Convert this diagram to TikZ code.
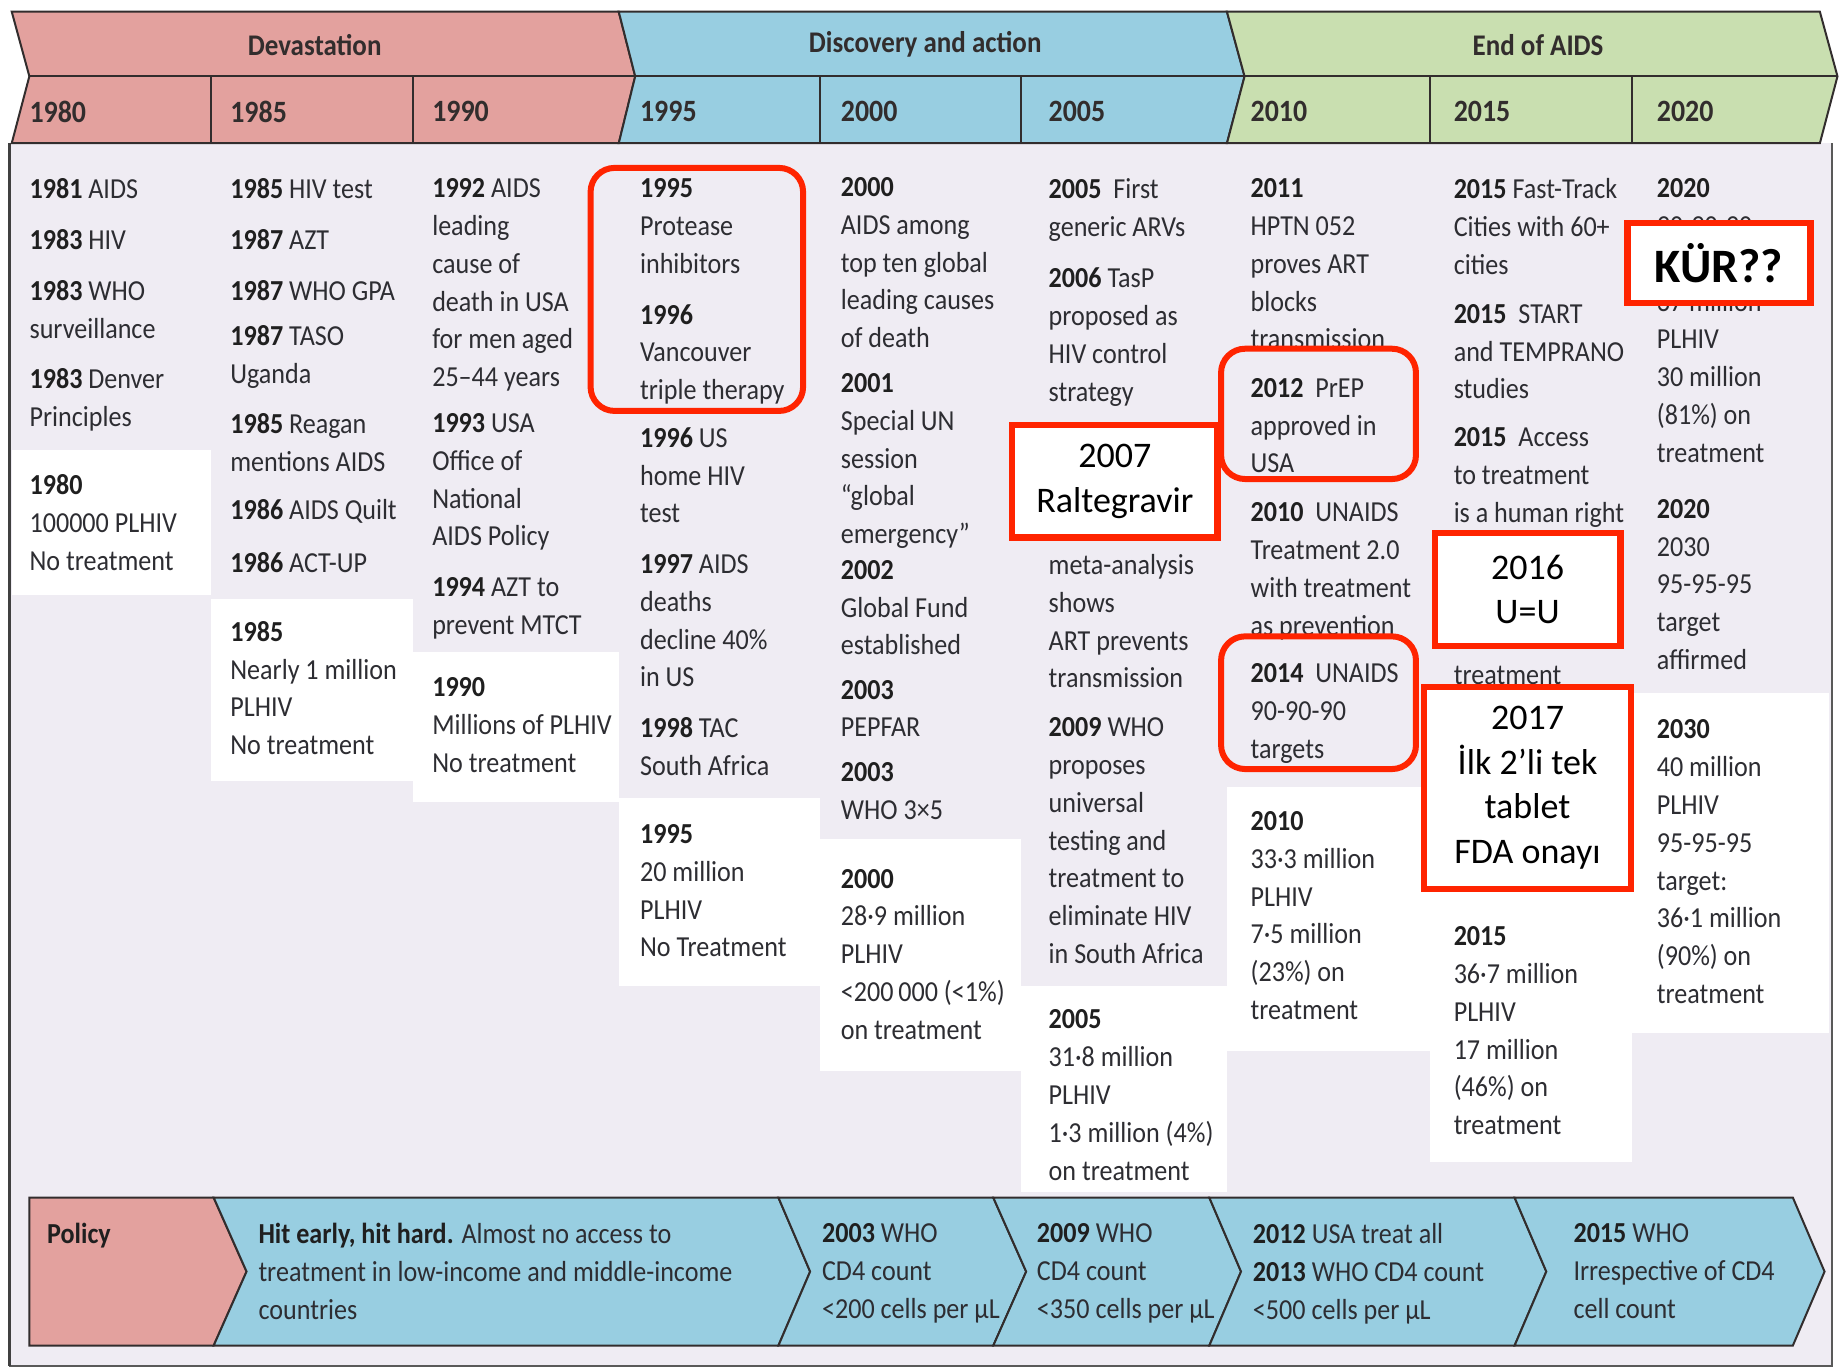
\documentclass[tikz,border=0pt]{standalone}
\usepackage{fontspec}
\setmainfont{Carlito}
\newfontfamily\lfont[FakeStretch=0.9]{Carlito}
\usetikzlibrary{fit}
\definecolor{hred}{RGB}{227,161,158}
\definecolor{hblue}{RGB}{152,206,225}
\definecolor{hgreen}{RGB}{201,223,176}
\definecolor{bodyc}{RGB}{239,236,243}
\definecolor{dark}{RGB}{50,45,45}
\definecolor{txt}{RGB}{45,45,50}
\definecolor{ovred}{RGB}{255,36,0}
\newcommand{\yrb}[1]{{\bfseries\color{black!88}#1}}
\tikzset{
 ev/.style={anchor=north west, inner sep=0pt, align=left, font=\lfont\fontsize{29}{37.8}\selectfont, text=txt},
 hd/.style={inner sep=0pt, font=\lfont\bfseries\fontsize{30}{36}\selectfont, text=dark},
 yrlab/.style={anchor=west, inner sep=0pt, font=\lfont\bfseries\fontsize{31}{36}\selectfont, text=dark},
 outl/.style={draw=dark, line width=2pt, line join=miter},
 redr/.style={draw=ovred, line width=6pt, rounded corners=24pt, inner sep=0pt},
 reds/.style={draw=ovred, line width=6.5pt, fill=white, inner sep=0pt},
 redtxt/.style={inner sep=0pt, align=center, font=\fontsize{36}{44.6}\selectfont, text=black},
}
\begin{document}
\begin{tikzpicture}[x=1.1741pt, y=-1.1741pt]
\useasboundingbox (0,0) rectangle (1568,1167);
\fill[white] (0,0) rectangle (1568,1167);
% body
\fill[bodyc] (8,122) rectangle (1560,1163);
\draw[gray!70!black, line width=2pt] (1560,122) -- (1560,1163) -- (8,1163);
\draw[black!75, line width=3pt] (8,122) -- (8,1163);
% white statistic boxes
\fill[white] (10,383) rectangle (180,507);
\fill[white] (180,510) rectangle (352,665);
\fill[white] (352,555) rectangle (527,683);
\fill[white] (527,680) rectangle (698,840);
\fill[white] (698,715) rectangle (870,912);
\fill[white] (870,840) rectangle (1045,1015);
\fill[white] (1045,670) rectangle (1218,895);
\fill[white] (1218,755) rectangle (1390,990);
\fill[white] (1390,590) rectangle (1558,880);

% header
\draw[outl, fill=hred] (10,10) -- (527,10) -- (541,65) -- (527,122) -- (10,122) -- (25,65) -- cycle;
\draw[outl, fill=hblue] (527,10) -- (1045,10) -- (1060,65) -- (1045,122) -- (527,122) -- (541,65) -- cycle;
\draw[outl, fill=hgreen] (1045,10) -- (1550,10) -- (1565,65) -- (1550,122) -- (1045,122) -- (1060,65) -- cycle;
\draw[outl] (25,65) -- (1565,65);
\foreach \xx in {180,352,698,870,1218,1390} \draw[outl] (\xx,65) -- (\xx,122);
\node[hd] (hdev) at (268,38) {Devastation};
\node[hd] (hdis) at (788,38) {Discovery and action};
\node[hd] (hend) at (1310,38) {End of AIDS};
\node[yrlab] (y1980) at (25,95) {1980};
\node[yrlab] (y1985) at (196,95) {1985};
\node[yrlab] (y1990) at (368,95) {1990};
\node[yrlab] (y1995) at (545,95) {1995};
\node[yrlab] (y2000) at (716,95) {2000};
\node[yrlab] (y2005) at (893,95) {2005};
\node[yrlab] (y2010) at (1065,95) {2010};
\node[yrlab] (y2015) at (1238,95) {2015};
\node[yrlab] (y2020) at (1411,95) {2020};

% column 1
\node[ev] (c1a) at (25,152) {\yrb{1981} AIDS};
\node[ev] (c1b) at (25,195) {\yrb{1983} HIV};
\node[ev] (c1c) at (25,239) {\yrb{1983} WHO\\surveillance};
\node[ev] (c1d) at (25,314) {\yrb{1983} Denver\\Principles};
\node[ev] (c1w) at (25,404) {\yrb{1980}\\100000 PLHIV\\No treatment};
% column 2
\node[ev] (c2a) at (196,152) {\yrb{1985} HIV test};
\node[ev] (c2b) at (196,195) {\yrb{1987} AZT};
\node[ev] (c2c) at (196,239) {\yrb{1987} WHO GPA};
\node[ev] (c2d) at (196,277) {\yrb{1987} TASO\\Uganda};
\node[ev] (c2e) at (196,352) {\yrb{1985} Reagan\\mentions AIDS};
\node[ev] (c2f) at (196,425) {\yrb{1986} AIDS Quilt};
\node[ev] (c2g) at (196,470) {\yrb{1986} ACT-UP};
\node[ev] (c2w) at (196,529) {\yrb{1985}\\Nearly 1 million\\PLHIV\\No treatment};
% column 3
\node[ev] (c3a) at (368,152) {\yrb{1992} AIDS\\leading\\cause of\\death in USA\\for men aged\\25–44 years};
\node[ev] (c3b) at (368,352) {\yrb{1993} USA\\Office of\\National\\AIDS Policy};
\node[ev] (c3c) at (368,492) {\yrb{1994} AZT to\\prevent MTCT};
\node[ev] (c3w) at (368,577) {\yrb{1990}\\Millions of PLHIV\\No treatment};
% column 4
\node[ev] (c4a) at (545,152) {\yrb{1995}\\Protease\\inhibitors};
\node[ev] (c4b) at (545,259) {\yrb{1996}\\Vancouver\\triple therapy};
\node[ev] (c4c) at (545,364) {\yrb{1996} US\\home HIV\\test};
\node[ev] (c4d) at (545,472) {\yrb{1997} AIDS\\deaths\\decline 40\%\\in US};
\node[ev] (c4e) at (545,611) {\yrb{1998} TAC\\South Africa};
\node[ev] (c4w) at (545,702) {\yrb{1995}\\20 million\\PLHIV\\No Treatment};
% column 5
\node[ev] (c5a) at (716,151) {\yrb{2000}\\AIDS among\\top ten global\\leading causes\\of death};
\node[ev] (c5b) at (716,318) {\yrb{2001}\\Special UN\\session\\“global\\emergency”};
\node[ev] (c5c) at (716,477) {\yrb{2002}\\Global Fund\\established};
\node[ev] (c5d) at (716,579) {\yrb{2003}\\PEPFAR};
\node[ev] (c5e) at (716,649) {\yrb{2003}\\WHO 3×5};
\node[ev] (c5w) at (716,740) {\yrb{2000}\\28·9 million\\PLHIV\\<200\,000 (<1\%)\\on treatment};
% column 6
\node[ev] (c6a) at (893,152) {\yrb{2005}\ \ First\\generic ARVs};
\node[ev] (c6b) at (893,228) {\yrb{2006} TasP\\proposed as\\HIV control\\strategy};
\node[ev] (c6c) at (893,472) {meta-analysis\\shows\\ART prevents\\transmission};
\node[ev] (c6d) at (893,611) {\yrb{2009} WHO\\proposes\\universal\\testing and\\treatment to\\eliminate HIV\\in South Africa};
\node[ev] (c6w) at (893,860) {\yrb{2005}\\31·8 million\\PLHIV\\1·3 million (4\%)\\on treatment};
% column 7
\node[ev] (c7a) at (1065,152) {\yrb{2011}\\HPTN 052\\proves ART\\blocks\\transmission};
\node[ev] (c7b) at (1065,322) {\yrb{2012}\ \ PrEP\\approved in\\USA};
\node[ev] (c7c) at (1065,428) {\yrb{2010}\ \ UNAIDS\\Treatment 2.0\\with treatment\\as prevention};
\node[ev] (c7d) at (1065,565) {\yrb{2014}\ \ UNAIDS\\90-90-90\\targets};
\node[ev] (c7w) at (1065,691) {\yrb{2010}\\33·3 million\\PLHIV\\7·5 million\\(23\%) on\\treatment};
% column 8
\node[ev] (c8a) at (1238,152) {\yrb{2015} Fast-Track\\Cities with 60+\\cities};
\node[ev] (c8b) at (1238,259) {\yrb{2015}\ \ START\\and TEMPRANO\\studies};
\node[ev] (c8c) at (1238,364) {\yrb{2015}\ \ Access\\to treatment\\is a human right};
\node[ev] (c8d) at (1238,567) {treatment};
\node[ev] (c8w) at (1238,789) {\yrb{2015}\\36·7 million\\PLHIV\\17 million\\(46\%) on\\treatment};
% column 9
\node[ev] (c9a) at (1411,152) {\yrb{2020}};
\node[ev] (c9h1) at (1411,184) {90-90-90};
\node[ev] (c9h2) at (1411,248) {37 million};
\node[ev] (c9c) at (1411,281) {PLHIV\\30 million\\(81\%) on\\treatment};
\node[ev] (c9b) at (1411,425) {\yrb{2020}\\2030\\95-95-95\\target\\affirmed};
\node[ev] (c9w) at (1411,613) {\yrb{2030}\\40 million\\PLHIV\\95-95-95\\target:\\36·1 million\\(90\%) on\\treatment};

% policy row
\draw[outl, fill=hred] (25,1020) -- (182,1020) -- (210,1083) -- (182,1146) -- (25,1146) -- cycle;
\draw[outl, fill=hblue] (182,1020) -- (663,1020) -- (690,1083) -- (663,1146) -- (182,1146) -- (210,1083) -- cycle;
\draw[outl, fill=hblue] (663,1020) -- (846,1020) -- (874,1083) -- (846,1146) -- (663,1146) -- (690,1083) -- cycle;
\draw[outl, fill=hblue] (846,1020) -- (1030,1020) -- (1057,1083) -- (1030,1146) -- (846,1146) -- (874,1083) -- cycle;
\draw[outl, fill=hblue] (1030,1020) -- (1290,1020) -- (1317,1083) -- (1290,1146) -- (1030,1146) -- (1057,1083) -- cycle;
\draw[outl, fill=hblue] (1290,1020) -- (1527,1020) -- (1554,1083) -- (1527,1146) -- (1290,1146) -- (1317,1083) -- cycle;
\node[ev] (p0) at (40,1042) {\yrb{Policy}};
\node[ev] (p1) at (220,1042) {\yrb{Hit early, hit hard.} Almost no access to\\treatment in low-income and middle-income\\countries};
\node[ev] (p2) at (700,1042) {\yrb{2003} WHO\\CD4 count\\<200 cells per µL};
\node[ev] (p3) at (883,1042) {\yrb{2009} WHO\\CD4 count\\<350 cells per µL};
\node[ev] (p4) at (1067,1042) {\yrb{2012} USA treat all\\\yrb{2013} WHO CD4 count\\<500 cells per µL};
\node[ev] (p5) at (1340,1042) {\yrb{2015} WHO\\Irrespective of CD4\\cell count};

% red overlays
\node[redr, fit={(503,143) (684,350)}] (r1) {};
\node[redr, fit={(1040,297) (1206,408)}] (r3) {};
\node[redr, fit={(1040,542) (1206,655)}] (r4) {};
\node[reds, fit={(862,362) (1037,458)}] (r2) {};
\node[redtxt] (r2t) at (r2.center) {2007\\Raltegravir};
\node[reds, fit={(1386,190) (1542,258)}] (r5) {};
\node[redtxt, font=\bfseries\fontsize{48}{56}\selectfont] (r5t) at (r5.center) {KÜR??};
\node[reds, fit={(1222,454) (1380,550)}] (r6) {};
\node[redtxt] (r6t) at (r6.center) {2016\\U=U};
\node[reds, fit={(1213,585) (1389,757)}] (r7) {};
\node[redtxt] (r7t) at (r7.center) {2017\\İlk 2’li tek\\tablet\\FDA onayı};
\end{tikzpicture}
\end{document}
